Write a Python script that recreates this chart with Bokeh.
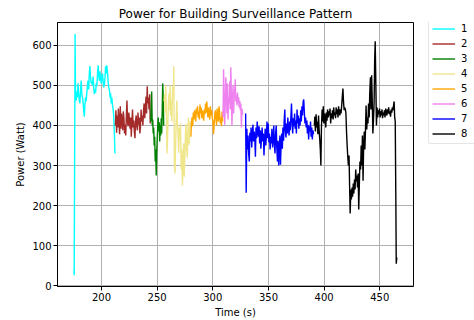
from bokeh.plotting import figure
from bokeh.models import Range1d, Legend, LegendItem, FixedTicker
from bokeh.layouts import row
from bokeh.embed import file_html
from bokeh.resources import INLINE

FONT = "DejaVu Sans"

title_text = "Power for Building Surveillance Pattern"
x_label = "Time (s)"
y_label = "Power (Watt)"
x_ticks = [200, 250, 300, 350, 400, 450]
y_ticks = [0, 100, 200, 300, 400, 500, 600]
series_names = ["1", "2", "3", "4", "5", "6", "7", "8"]
series_colors = ["cyan", "brown", "green", "khaki", "orange", "violet", "blue", "black"]

s1 = [(175.3, 40), (175.5, 26), (176.3, 628), (176.7, 470), (177.2, 462), (177.8, 485), (178.3, 470),
      (178.9, 505), (179.5, 478), (180.1, 462), (180.6, 455), (181.2, 490), (181.8, 512), (182.3, 478),
      (182.9, 470), (183.4, 460), (184.0, 440), (184.6, 422), (185.1, 450), (185.7, 470), (186.2, 460),
      (186.8, 480), (187.4, 500), (187.9, 512), (188.5, 490), (189.1, 530), (189.6, 548), (190.2, 520),
      (190.8, 505), (191.3, 510), (191.9, 500), (192.5, 522), (193.0, 495), (193.6, 478), (194.1, 490),
      (194.7, 482), (195.3, 505), (195.8, 498), (196.4, 525), (197.0, 550), (197.5, 530), (198.1, 512),
      (198.6, 535), (199.2, 520), (199.8, 505), (200.3, 518), (200.9, 530), (201.5, 510), (202.0, 495),
      (202.6, 502), (203.2, 520), (203.7, 548), (204.3, 530), (204.8, 550), (205.4, 532), (206.0, 510),
      (206.5, 495), (207.1, 490), (207.7, 470), (208.2, 480), (208.8, 455), (209.3, 470), (209.9, 450),
      (210.5, 440), (211.0, 425), (211.6, 380), (212.1, 330)]

s2 = [(212.5, 400), (213.0, 438), (213.6, 382), (214.1, 425), (214.7, 395), (215.2, 442), (215.8, 405),
      (216.3, 378), (216.9, 448), (217.4, 392), (218.0, 430), (218.5, 410), (219.1, 388), (219.6, 435),
      (220.2, 418), (220.7, 380), (221.3, 402), (221.8, 375), (222.4, 428), (222.9, 462), (223.5, 405),
      (224.0, 398), (224.6, 432), (225.1, 415), (225.7, 392), (226.2, 420), (226.8, 372), (227.3, 408),
      (227.9, 440), (228.4, 395), (229.0, 412), (229.5, 385), (230.1, 368), (230.6, 410), (231.2, 425),
      (231.7, 398), (232.3, 388), (232.8, 432), (233.4, 402), (233.9, 420), (234.5, 380), (235.0, 395),
      (235.6, 440), (236.1, 410), (236.7, 425), (237.2, 400), (237.8, 438), (238.3, 455), (238.9, 418),
      (239.4, 445), (240.0, 472), (240.5, 430), (241.1, 498), (241.6, 455), (242.2, 470), (242.7, 440),
      (243.3, 478), (243.8, 405)]

s3 = [(244.2, 410), (244.7, 450), (245.1, 485), (245.6, 400), (246.0, 415), (246.5, 380), (246.9, 395),
      (247.4, 350), (247.8, 372), (248.3, 310), (248.7, 340), (249.2, 275), (249.6, 330), (250.1, 368),
      (250.5, 395), (251.0, 420), (251.4, 385), (251.9, 408), (252.3, 360), (252.8, 400), (253.2, 375),
      (253.7, 418), (254.1, 380), (254.6, 440), (255.0, 505), (255.5, 470), (255.9, 400)]

s4 = [(256.2, 460), (256.7, 478), (257.3, 432), (257.8, 500), (258.4, 415), (258.9, 330), (259.5, 385),
      (260.0, 448), (260.6, 480), (261.1, 438), (261.7, 500), (262.2, 425), (262.8, 462), (263.3, 410),
      (263.9, 498), (264.4, 470), (265.0, 548), (265.5, 300), (266.1, 280), (266.6, 352), (267.2, 420),
      (267.7, 462), (268.3, 398), (268.8, 380), (269.4, 332), (269.9, 395), (270.5, 365), (271.0, 405),
      (271.6, 290), (272.1, 340), (272.7, 250), (273.2, 302), (273.8, 355), (274.3, 272), (274.9, 318),
      (275.4, 380), (276.0, 405), (276.5, 342), (277.1, 320), (277.6, 385), (278.2, 420), (278.7, 352),
      (279.3, 398), (279.8, 410)]

s5 = [(280.3, 372), (280.8, 405), (281.4, 420), (281.9, 398), (282.5, 432), (283.0, 415), (283.6, 438),
      (284.1, 425), (284.7, 410), (285.2, 442), (285.8, 428), (286.3, 448), (286.9, 420), (287.4, 435),
      (288.0, 415), (288.5, 452), (289.1, 430), (289.6, 445), (290.2, 418), (290.7, 438), (291.3, 425),
      (291.8, 412), (292.4, 440), (292.9, 428), (293.5, 455), (294.0, 432), (294.6, 460), (295.1, 438),
      (295.7, 420), (296.2, 445), (296.8, 430), (297.3, 415), (297.9, 448), (298.4, 425), (299.0, 438),
      (299.5, 420), (300.1, 410), (300.6, 378), (301.2, 402), (301.7, 425), (302.3, 438), (302.8, 418),
      (303.4, 400), (303.9, 442), (304.5, 428), (305.0, 410), (305.6, 448), (306.1, 432), (306.7, 405),
      (307.2, 420), (307.8, 398), (308.3, 435), (308.9, 410)]

s6 = [(309.2, 420), (309.7, 540), (310.2, 470), (310.7, 402), (311.2, 455), (311.7, 520), (312.2, 480),
      (312.7, 430), (313.2, 505), (313.7, 415), (314.2, 470), (314.7, 455), (315.2, 510), (315.7, 440),
      (316.2, 545), (316.7, 475), (317.2, 400), (317.7, 460), (318.2, 500), (318.7, 430), (319.2, 468),
      (319.7, 488), (320.2, 515), (320.7, 460), (321.2, 475), (321.7, 450), (322.2, 482), (322.7, 455),
      (323.2, 470), (323.7, 445), (324.2, 462), (324.7, 438), (325.2, 455), (325.7, 395), (326.2, 442),
      (326.7, 430), (327.2, 428)]

s7 = [(329.5, 430), (330.0, 232), (330.6, 392), (331.1, 340), (331.7, 375), (332.2, 330), (332.8, 310),
      (333.3, 382), (333.9, 360), (334.4, 395), (335.0, 345), (335.5, 378), (336.1, 402), (336.6, 360),
      (337.2, 385), (337.7, 372), (338.3, 322), (338.8, 395), (339.4, 368), (339.9, 410), (340.5, 385),
      (341.0, 372), (341.6, 398), (342.1, 355), (342.7, 388), (343.2, 342), (343.8, 372), (344.3, 395),
      (344.9, 360), (345.4, 380), (346.0, 325), (346.5, 365), (347.1, 392), (347.6, 350), (348.2, 375),
      (348.7, 410), (349.3, 368), (349.8, 405), (350.4, 358), (350.9, 380), (351.5, 340), (352.0, 372),
      (352.6, 355), (353.1, 392), (353.7, 345), (354.2, 368), (354.8, 400), (355.3, 352), (355.9, 330),
      (356.4, 378), (357.0, 400), (357.5, 345), (358.1, 310), (358.6, 362), (359.2, 300), (359.7, 342),
      (360.3, 375), (360.8, 302), (361.4, 355), (361.9, 380), (362.5, 342), (363.0, 395), (363.6, 362),
      (364.1, 410), (364.7, 440), (365.2, 385), (365.8, 370), (366.3, 405), (366.9, 380), (367.4, 420),
      (368.0, 392), (368.5, 375), (369.1, 410), (369.6, 388), (370.2, 425), (370.7, 455), (371.3, 402),
      (371.8, 380), (372.4, 418), (372.9, 398), (373.5, 430), (374.0, 392), (374.6, 412), (375.1, 380),
      (375.7, 440), (376.2, 405), (376.8, 425), (377.3, 392), (377.9, 418), (378.4, 400), (379.0, 438),
      (379.5, 410), (380.1, 448), (380.6, 425), (381.2, 460), (381.7, 465), (382.3, 430), (382.8, 405),
      (383.4, 420), (383.9, 395), (384.5, 412), (385.0, 380), (385.6, 402), (386.1, 365), (386.7, 398),
      (387.2, 385), (387.8, 410), (388.3, 372), (388.9, 395), (389.4, 365), (390.0, 388), (390.5, 378)]

s8 = [(391.2, 400), (391.7, 422), (392.2, 385), (392.8, 428), (393.3, 395), (393.9, 410), (394.4, 378),
      (395.0, 425), (395.5, 390), (396.1, 365), (396.6, 340), (397.1, 300), (397.6, 395), (398.2, 440),
      (398.7, 410), (399.3, 448), (399.8, 405), (400.4, 430), (400.9, 418), (401.5, 395), (402.0, 432),
      (402.6, 412), (403.1, 440), (403.7, 420), (404.2, 435), (404.8, 425), (405.3, 442), (405.9, 405),
      (406.4, 430), (407.0, 418), (407.5, 438), (408.1, 415), (408.6, 445), (409.2, 425), (409.7, 432),
      (410.3, 418), (410.8, 445), (411.4, 428), (411.9, 440), (412.5, 420), (413.0, 448), (413.6, 432),
      (414.1, 425), (414.7, 440), (415.2, 430), (415.8, 450), (416.3, 470), (416.9, 492), (417.4, 460),
      (418.0, 438), (418.5, 445), (419.1, 440), (419.6, 430), (420.2, 380), (420.7, 350), (421.3, 320),
      (421.8, 300), (422.4, 325), (422.9, 250), (423.4, 180), (424.0, 240), (424.5, 215), (425.1, 245),
      (425.6, 222), (426.2, 255), (426.7, 230), (427.3, 265), (427.8, 240), (428.4, 290), (428.9, 260),
      (429.5, 275), (430.0, 245), (430.6, 280), (431.1, 190), (431.7, 260), (432.2, 310), (432.8, 290),
      (433.3, 350), (433.9, 300), (434.4, 375), (435.0, 262), (435.5, 350), (436.1, 385), (436.6, 340),
      (437.2, 392), (437.7, 450), (438.3, 390), (438.8, 420), (439.4, 405), (439.9, 455), (440.5, 420),
      (441.0, 480), (441.6, 520), (442.1, 440), (442.7, 525), (443.2, 470), (443.8, 380), (444.3, 410),
      (444.9, 455), (445.4, 560), (445.9, 610), (446.5, 500), (447.0, 400), (447.6, 445), (448.1, 420),
      (448.7, 438), (449.2, 428), (449.8, 442), (450.3, 420), (450.9, 435), (451.4, 425), (452.0, 440),
      (452.5, 418), (453.1, 432), (453.6, 425), (454.2, 438), (454.7, 420), (455.3, 442), (455.8, 430),
      (456.4, 425), (456.9, 440), (457.5, 430), (458.0, 445), (458.6, 428), (459.1, 435), (459.7, 422),
      (460.2, 440), (460.8, 432), (461.3, 445), (461.9, 438), (462.4, 450), (462.9, 460), (463.4, 420),
      (463.9, 410), (464.4, 230), (464.8, 55), (465.2, 68), (465.6, 70)]

all_series = [s1, s2, s3, s4, s5, s6, s7, s8]

p = figure(width=414, height=320, output_backend="svg", toolbar_location=None,
           x_range=Range1d(160.5, 480.3), y_range=Range1d(-2, 657),
           min_border_left=57, min_border_right=1, min_border_top=22, min_border_bottom=32)

p.title.text = title_text
p.title.align = "center"
p.title.text_font = FONT
p.title.text_font_size = "12px"
p.title.text_font_style = "normal"
p.title.text_color = "black"
p.title.standoff = 3
p.title.offset = 0

# legend panel: a companion figure whose view range shows none of the data,
# so its copies of the series only feed the legend glyphs
q = figure(width=60, height=320, output_backend="svg", toolbar_location=None,
           x_axis_type=None, y_axis_type=None,
           x_range=Range1d(0, 1), y_range=Range1d(0, 1),
           min_border_left=0, min_border_right=0, min_border_top=0, min_border_bottom=0)
q.outline_line_color = None

items = []
for name, color, s in zip(series_names, series_colors, all_series):
    xs = [pt[0] for pt in s]
    ys = [pt[1] for pt in s]
    p.line(xs, ys, line_color=color, line_width=1.4)
    r = q.line(xs, ys, line_color=color, line_width=1.4)
    items.append(LegendItem(label=name, renderers=[r]))

for ax in (p.xaxis[0], p.yaxis[0]):
    ax.axis_label_text_font = FONT
    ax.axis_label_text_font_size = "10px"
    ax.axis_label_text_font_style = "normal"
    ax.axis_label_text_color = "black"
    ax.major_label_text_font = FONT
    ax.major_label_text_font_size = "10px"
    ax.major_label_text_color = "black"
    ax.minor_tick_line_color = None
    ax.major_tick_out = 4
    ax.major_tick_in = 0
    ax.major_tick_line_color = "black"
    ax.axis_line_color = "black"
    ax.major_label_standoff = 2
    ax.axis_label_standoff = 3

p.xaxis.axis_label = x_label
p.yaxis.axis_label = y_label
p.xaxis.ticker = FixedTicker(ticks=x_ticks)
p.yaxis.ticker = FixedTicker(ticks=y_ticks)

p.grid.grid_line_color = "#b0b0b0"
p.grid.grid_line_width = 1
p.outline_line_color = "black"
p.outline_line_alpha = 1
p.outline_line_width = 1

legend = Legend(items=items, location=(14, 142))
legend.label_text_font = FONT
legend.label_text_font_size = "10px"
legend.label_text_color = "black"
legend.glyph_width = 23
legend.glyph_height = 13
legend.label_height = 13
legend.label_standoff = 6
legend.spacing = 2
legend.padding = 3
legend.margin = 0
legend.border_line_color = "#cccccc"
legend.border_line_width = 1
legend.border_radius = 2
legend.background_fill_alpha = 1
q.add_layout(legend, "center")

layout = row(p, q, spacing=0)
open("out.html", "w").write(file_html(layout, INLINE))
